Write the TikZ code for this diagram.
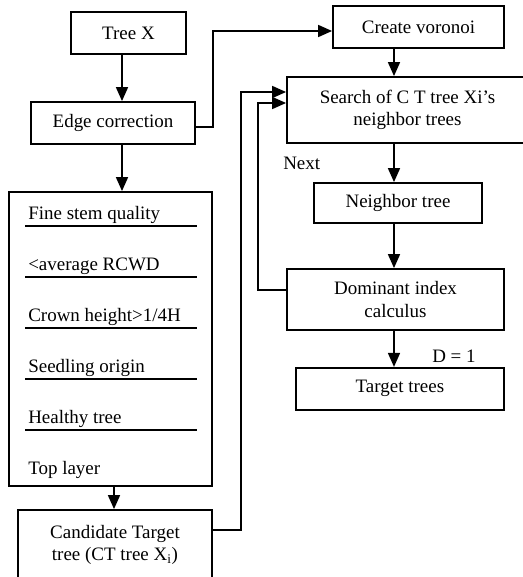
\documentclass[tikz,border=0pt]{standalone}
\usepackage{fontspec}
\setmainfont{Liberation Serif}
\usetikzlibrary{positioning,arrows.meta}

\tikzset{
  box/.style={draw,line width=0.45mm,minimum height=10.5mm,inner sep=1mm,align=center},
  arr/.style={line width=0.4mm,-{Triangle[length=3.5mm,width=3mm]}},
  sep/.style={line width=0.3mm},
}

\begin{document}
\begin{tikzpicture}[x=0.25mm,y=-0.25mm,font=\fontsize{13.5}{16}\selectfont]
\useasboundingbox (0,0) rectangle (523,577);
\clip (0,0) rectangle (523,577);
% left column
\node[box,minimum width=28.75mm] (treex) at (128.5,33) {Tree X};
\node[box,minimum width=41mm] (edge) at (113,123) {Edge correction};
\node[box,minimum width=50.75mm,minimum height=73.5mm] (crit) at (110.5,339) {};
\node[box,minimum width=48.5mm,minimum height=17.5mm] (cand) at (115,545) {Candidate Target\\tree (CT tree X\textsubscript{i})};
% criteria inside the big box
\foreach \y in {226,277,328,379,430}
  \draw[sep] (25,\y) -- (197,\y);
\foreach \t [count=\i] in {Fine stem quality,<average RCWD,Crown height>1/4H,Seedling origin,Healthy tree,Top layer}
  \node[anchor=base west,inner sep=0] (c\i) at (28,168+51*\i) {\t};
% right column
\node[box,minimum width=42.75mm] (voronoi) at (418.5,27) {Create voronoi};
\node[box,minimum width=60.25mm,minimum height=16.5mm] (search) at (407.5,110) {Search of C T tree Xi's\\neighbor trees};
\node[box,minimum width=42mm,minimum height=10mm] (neighbor) at (398,203) {Neighbor tree};
\node[box,minimum width=54.25mm,minimum height=15.25mm] (dominant) at (395.5,299.5) {Dominant index\\calculus};
\node[box,minimum width=52mm,below=9mm of dominant,xshift=1.1mm] (target) {Target trees};
\node[anchor=west,inner sep=0] (nextlbl) at (283,163) {Next};
\node[anchor=base west,inner sep=0] (dlbl) at (432,362) {D = 1};
% arrow columns
\coordinate (colA) at (122,0);
\coordinate (colB) at (114,0);
\coordinate (colC) at (394,0);
\draw[arr] (treex.south -| colA) -- (edge.north -| colA);
\draw[arr] (edge.south -| colA) -- (crit.north -| colA);
\draw[arr] (crit.south -| colB) -- (cand.north -| colB);
\draw[arr] ([yshift=-1mm]edge.east) -- ++(17,0) |- ([yshift=-1mm]voronoi.west);
\draw[arr] (voronoi.south -| colC) -- (search.north -| colC);
\draw[arr] (search.south -| colC) -- (neighbor.north -| colC);
\draw[arr] (neighbor.south -| colC) -- (dominant.north -| colC);
\draw[arr] (dominant.south -| colC) -- (target.north -| colC);
\draw[arr] ([yshift=2.4mm]dominant.west) -- ++(-28,0) |- ([yshift=1.75mm]search.west);
\draw[arr] ([yshift=3.75mm]cand.east) -- ++(28,0) |- ([yshift=4.5mm]search.west);
\end{tikzpicture}
\end{document}
